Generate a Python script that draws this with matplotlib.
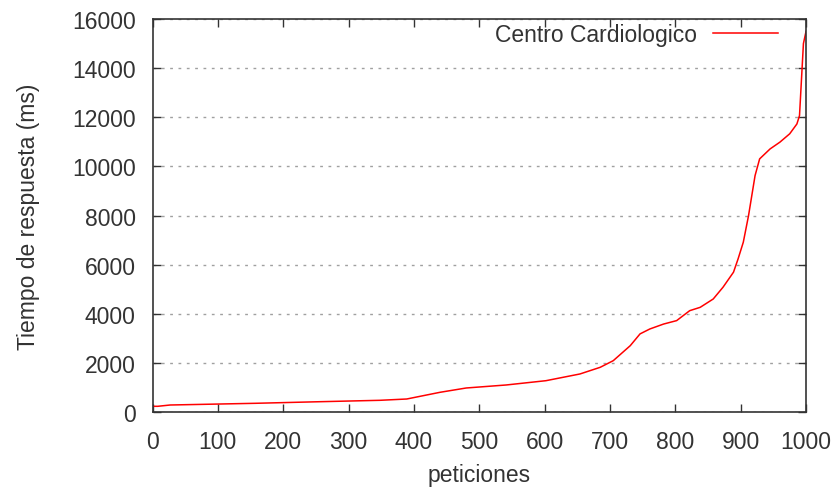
import matplotlib
matplotlib.use("Agg")
import matplotlib.pyplot as plt

# values (sorted response times)
peticiones = [0, 8, 27, 157, 256, 348, 389, 440, 480, 541, 602, 654, 685, 705,
              731, 746, 761, 782, 802, 822, 838, 858, 873, 889, 896, 904, 912,
              922, 929, 945, 960, 975, 986, 990, 996, 1000]
tiempo = [244, 244, 297, 366, 431, 488, 541, 814, 989, 1111, 1286, 1559, 1830,
          2100, 2710, 3190, 3390, 3590, 3730, 4135, 4270, 4610, 5090, 5700, 6240,
          6920, 8000, 9630, 10310, 10715, 10990, 11330, 11730, 12070, 15000, 15500]
xticks = list(range(0, 1001, 100))
yticks = list(range(0, 16001, 2000))

plt.rcParams['font.family'] = ['Liberation Sans', 'DejaVu Sans']
fs = 16.5

fig = plt.figure(figsize=(8.32, 4.89), dpi=100)
ax = fig.add_axes([0.1833, 0.1548, 0.7855, 0.8043])

ax.plot(peticiones, tiempo, color='#ff0000', linewidth=1.1, label='Centro Cardiologico')

ax.set_xlim(0, 1000)
ax.set_ylim(0, 16000)
ax.set_xticks(xticks)
ax.set_yticks(yticks)
ax.tick_params(direction='in', top=True, right=True, length=6, width=1,
               labelsize=fs, labelcolor='#333333', color='#333333')
ax.tick_params(axis='x', pad=13)
ax.tick_params(axis='y', pad=12)
ax.yaxis.grid(True, linestyle=(0, (2, 4)), color='#a0a0a0', linewidth=1)
for s in ax.spines.values():
    s.set_color('#333333')
    s.set_linewidth(1.2)

ax.set_xlabel('peticiones', fontsize=fs, color='#333333', labelpad=7)
ax.set_ylabel('Tiempo de respuesta (ms)', fontsize=fs, color='#333333', labelpad=23)

leg = ax.legend(loc='upper right', bbox_to_anchor=(0.957, 0.99), frameon=False,
                markerfirst=False, fontsize=fs, handlelength=2.84,
                borderaxespad=0, borderpad=0, handletextpad=0.7)
for t in leg.get_texts():
    t.set_color('#333333')

fig.savefig('out.png', dpi=100)
